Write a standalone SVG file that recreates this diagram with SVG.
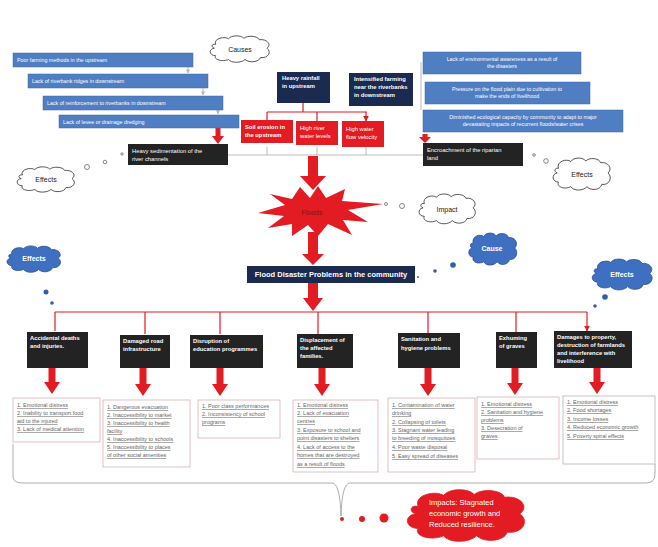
<svg xmlns="http://www.w3.org/2000/svg" xmlns:xlink="http://www.w3.org/1999/xlink" width="658" height="547" viewBox="0 0 658 547">
<style>
text{font-family:"Liberation Sans",Arial,sans-serif}
.bar{fill:#4f7ec2;stroke:#3d68a6;stroke-width:0.5}
.bt{font-size:5.3px;fill:#fff}
.navy{fill:#1b2a4f}
.red{fill:#e31b23}
.dark{fill:#232323}
.wt{font-size:5.8px;fill:#fff;font-weight:bold}
.wn{font-size:5.8px;fill:#fff}
.list{fill:#fff;stroke:#d9a3a8;stroke-width:0.7}
.lt{font-size:5.5px;fill:#666;text-decoration:underline}
.cw{fill:#fff;stroke:#444;stroke-width:0.9}
.cb{fill:#3e6fc0;stroke:#2b508f;stroke-width:0.8}
.cr{fill:#e31b23;stroke:#e31b23;stroke-width:0.8}
.ct{font-size:7px;fill:#222;text-anchor:middle}
.cbt{font-size:7px;fill:#fff;text-anchor:middle;font-weight:bold}
.gray{stroke:#a9a9a9;stroke-width:0.8;fill:none}
.rl{stroke:#e31b23;stroke-width:1.2;fill:none}
.arr{fill:#e31b23}
.dot{fill:#fff;stroke:#555;stroke-width:0.7}
.bdot{fill:#2f5fae}
.rdot{fill:#e31b23}
</style>
<defs>
<path id="cloud" vector-effect="non-scaling-stroke" d="M12 20 C8 8,25 2,32 8 C36 0,52 0,56 7 C62 0,78 2,80 10 C92 8,100 20,92 28 C100 36,94 50,82 48 C80 58,64 60,58 52 C52 60,36 60,32 52 C22 58,8 52,12 44 C2 44,0 30,10 28 C4 26,6 18,12 20 Z"/>
<marker id="ah" viewBox="0 0 10 10" refX="9" refY="5" markerWidth="5" markerHeight="5" orient="auto"><path d="M0,0 L10,5 L0,10 Z" fill="#e31b23"/></marker>
<marker id="gh" viewBox="0 0 10 10" refX="9" refY="5" markerWidth="5" markerHeight="5" orient="auto"><path d="M0,0 L10,5 L0,10 Z" fill="#b5b5b5"/></marker>
</defs>
<rect width="658" height="547" fill="#fff"/>

<g id="connectors">
<path class="gray" d="M188,67 V73" stroke="#b5b5b5" stroke-width="2.5" marker-end="url(#gh)"/>
<path class="gray" d="M203,88 V95" stroke="#b5b5b5" stroke-width="2.5" marker-end="url(#gh)"/>
<path class="gray" d="M218,110 V114" stroke="#b5b5b5" stroke-width="2.5" marker-end="url(#gh)"/>
<path class="gray" d="M421,62 V110" stroke="#c8c8c8" stroke-width="2.5"/>
<path class="gray" d="M228,155 H423"/>
<path class="gray" d="M267,147 V155 M317,147 V155 M366,147 V155"/>
<path class="arr" d="M215.5,128 H220.5 V136 H224 L218,144 L212,136 H215.5 Z"/>
<path class="arr" d="M422.5,134 H427.5 V137 H431 L425,143 L419,137 H422.5 Z"/>
<path class="rl" d="M303,103 V112 M267,112 H367"/>
<path class="rl" d="M267,112 V120 M317,112 V121 M366,112 V121" marker-end="url(#ah)"/>
<path class="arr" d="M308,156 H318 V176 H326 L313,190 L300,176 H308 Z"/>
<path class="arr" d="M308,232 H318 V254 H324 L313,265 L302,254 H308 Z"/>
<path class="arr" d="M308,283 H318 V298 H323 L313,311 L303,298 H308 Z"/>
<path class="rl" d="M55,312 H587"/>
<path class="rl" d="M55,312 V331 M145,312 V334 M220,312 V334 M318,312 V334 M428,312 V333 M516,312 V332 M587,312 V331" marker-end="url(#ah)"/>
<path class="arr" d="M48.5,368 H55.5 V382 H60 L52,394 L44,382 H48.5 Z"/>
<path class="arr" d="M139.5,368 H146.5 V384 H151 L143,396 L135,384 H139.5 Z"/>
<path class="arr" d="M216.5,368 H223.5 V384 H228 L220,396 L212,384 H216.5 Z"/>
<path class="arr" d="M318.5,368 H325.5 V384 H330 L322,396 L314,384 H318.5 Z"/>
<path class="arr" d="M424.5,368 H431.5 V384 H436 L428,396 L420,384 H424.5 Z"/>
<path class="arr" d="M511.5,368 H518.5 V383 H523 L515,395 L507,383 H511.5 Z"/>
<path class="arr" d="M593.5,368 H600.5 V382 H605 L597,394 L589,382 H593.5 Z"/>
<path d="M13,444 V476 Q13,483 22,483 H332 Q340,483 341,516 Q342,483 350,483 H646 Q655,483 655,474 V464" fill="none" stroke="#999" stroke-width="0.8"/>
</g>

<g id="causes-bars-left">
<rect class="bar" x="13" y="53" width="180" height="14"/>
<text class="bt" x="17" y="62">Poor farming methods in the upstream</text>
<rect class="bar" x="28" y="74" width="180" height="14"/>
<text class="bt" x="32" y="83">Lack of riverbank ridges in downstream</text>
<rect class="bar" x="43" y="96" width="180" height="14"/>
<text class="bt" x="47" y="105">Lack of reinforcement to riverbanks in downstream</text>
<rect class="bar" x="59" y="115" width="180" height="13"/>
<text class="bt" x="63" y="123.5">Lack of levee or drainage dredging</text>
</g>

<g id="causes-bars-right">
<rect class="bar" x="423" y="52" width="158" height="22"/>
<text class="bt" x="502" y="61" text-anchor="middle">Lack of environmental awareness as a result of</text>
<text class="bt" x="502" y="68" text-anchor="middle">the disasters</text>
<rect class="bar" x="425" y="82" width="165" height="22"/>
<text class="bt" x="507" y="91" text-anchor="middle">Pressure on the flood plain due to cultivation to</text>
<text class="bt" x="507" y="98" text-anchor="middle">make the ends of livelihood</text>
<rect class="bar" x="423" y="110" width="200" height="22"/>
<text class="bt" x="523" y="119" text-anchor="middle">Diminished ecological capacity by community to adapt to major</text>
<text class="bt" x="523" y="126" text-anchor="middle">devastating impacts of recurrent floods/water crises</text>
</g>

<g id="causes-cloud">
<use href="#cloud" class="cw" transform="translate(208,35) scale(0.64,0.47)"/>
<text class="ct" x="240" y="52">Causes</text>
</g>

<g id="heavy-rainfall">
<rect class="navy" x="277" y="72" width="53" height="31"/>
<text class="wt" x="282" y="80">Heavy rainfall</text>
<text class="wt" x="282" y="88">in upstream</text>
</g>
<g id="intensified-farming">
<rect class="navy" x="349" y="73" width="64" height="33"/>
<text class="wt" x="354" y="81">Intensified farming</text>
<text class="wt" x="354" y="89">near the riverbanks</text>
<text class="wt" x="354" y="97">in downstream</text>
</g>
<g id="soil-erosion">
<rect class="red" x="241" y="120" width="52" height="23"/>
<text class="wt" x="245" y="129">Soil erosion in</text>
<text class="wt" x="245" y="137">the upstream</text>
</g>
<g id="high-river">
<rect class="red" x="296" y="121" width="42" height="24"/>
<text class="wn" x="300" y="130">High river</text>
<text class="wn" x="300" y="138">water levels</text>
</g>
<g id="high-velocity">
<rect class="red" x="342" y="121" width="42" height="26"/>
<text class="wn" x="346" y="131">High water</text>
<text class="wn" x="346" y="139">flow velocity</text>
</g>

<g id="sedimentation">
<rect class="dark" x="128" y="144" width="100" height="21"/>
<text class="wn" x="132" y="153">Heavy sedimentation of the</text>
<text class="wn" x="132" y="161">river channels</text>
</g>
<g id="encroachment">
<rect class="dark" x="423" y="143" width="100" height="23"/>
<text class="wn" x="427" y="152">Encroachment of the riparian</text>
<text class="wn" x="427" y="160">land</text>
</g>

<g id="effects-left">
<circle class="dot" cx="87" cy="167" r="2.5"/>
<circle class="dot" cx="105" cy="162" r="1.8"/>
<circle class="dot" cx="122" cy="154" r="1.2"/>
<use href="#cloud" class="cw" transform="translate(15,166) scale(0.62,0.45)"/>
<text class="ct" x="46" y="182">Effects</text>
</g>
<g id="effects-right">
<circle class="dot" cx="534" cy="155" r="1.3"/>
<circle class="dot" cx="546" cy="161" r="2.3"/>
<use href="#cloud" class="cw" transform="translate(551,157) scale(0.62,0.57)"/>
<text class="ct" x="582" y="177">Effects</text>
</g>

<g id="floods">
<polygon class="red" points="258,213 285,205 270,194 292,199 300,187 310,198 318,186 326,198 345,189 342,201 383,204 348,210 368,222 343,220 352,235 328,224 318,236 308,225 292,236 292,224 268,228 284,216"/>
<text x="312" y="215" font-size="7" fill="#8b1010" text-anchor="middle">Floods</text>
</g>
<g id="impact-cloud">
<circle class="dot" cx="386" cy="204" r="1.5"/>
<circle class="dot" cx="402" cy="206" r="2.5"/>
<use href="#cloud" class="cw" transform="translate(417,193) scale(0.61,0.53)"/>
<text class="ct" x="447" y="212">Impact</text>
</g>

<g id="flood-problems">
<rect class="navy" x="247" y="266" width="168" height="17"/>
<text x="331" y="277" font-size="7.5" fill="#fff" font-weight="bold" text-anchor="middle">Flood Disaster Problems in the community</text>
</g>
<g id="cause-cloud">
<circle class="bdot" cx="418" cy="277" r="1"/>
<circle class="bdot" cx="435" cy="271" r="1.8"/>
<circle class="bdot" cx="453" cy="265" r="2.8"/>
<use href="#cloud" class="cb" transform="translate(467,232) scale(0.52,0.57)"/>
<text class="cbt" x="492" y="251">Cause</text>
</g>
<g id="effects-blue-left">
<use href="#cloud" class="cb" transform="translate(5,245) scale(0.58,0.47)"/>
<text class="cbt" x="34" y="261">Effects</text>
<circle class="bdot" cx="46" cy="292" r="2.5"/>
<circle class="bdot" cx="52" cy="303" r="1.8"/>
</g>
<g id="effects-blue-right">
<use href="#cloud" class="cb" transform="translate(590,258) scale(0.65,0.55)"/>
<text class="cbt" x="622" y="277">Effects</text>
<circle class="bdot" cx="605" cy="297" r="2.8"/>
<circle class="bdot" cx="595" cy="306" r="1.8"/>
</g>

<g id="deaths">
<rect class="dark" x="27" y="332" width="61" height="36"/>
<text class="wt" x="30" y="340">Accidental deaths</text>
<text class="wt" x="30" y="348">and injuries.</text>
</g>
<g id="roads">
<rect class="dark" x="120" y="335" width="50" height="33"/>
<text class="wt" x="123" y="343">Damaged road</text>
<text class="wt" x="123" y="351">infrastructure</text>
</g>
<g id="education">
<rect class="dark" x="190" y="335" width="73" height="33"/>
<text class="wt" x="193" y="343">Disruption of</text>
<text class="wt" x="193" y="351">education programmes</text>
</g>
<g id="displacement">
<rect class="dark" x="297" y="334" width="56" height="34"/>
<text class="wt" x="300" y="342">Displacement of</text>
<text class="wt" x="300" y="350">the affected</text>
<text class="wt" x="300" y="358">families.</text>
</g>
<g id="sanitation">
<rect class="dark" x="398" y="333" width="62" height="35"/>
<text class="wt" x="401" y="341">Sanitation and</text>
<text class="wt" x="401" y="350">hygiene problems</text>
</g>
<g id="graves">
<rect class="dark" x="496" y="332" width="41" height="36"/>
<text class="wt" x="499" y="340">Exhuming</text>
<text class="wt" x="499" y="348">of graves</text>
</g>
<g id="property">
<rect class="dark" x="554" y="331" width="78" height="37"/>
<text class="wt" x="557" y="339">Damages to property,</text>
<text class="wt" x="557" y="347">destruction of farmlands</text>
<text class="wt" x="557" y="355">and interference with</text>
<text class="wt" x="557" y="363">livelihood</text>
</g>

<g id="list-deaths">
<rect class="list" x="13" y="398" width="87" height="44"/>
<text class="lt" x="17" y="407">1. Emotional distress</text>
<text class="lt" x="17" y="415">2. Inability to transport food</text>
<text class="lt" x="17" y="423">aid to the injured</text>
<text class="lt" x="17" y="431">3. Lack of medical attention</text>
</g>
<g id="list-roads">
<rect class="list" x="103" y="400" width="87" height="67"/>
<text class="lt" x="107" y="409">1. Dangerous evacuation</text>
<text class="lt" x="107" y="417">2. Inaccessibility to market</text>
<text class="lt" x="107" y="425">3. Inaccessibility to health</text>
<text class="lt" x="107" y="433">facility</text>
<text class="lt" x="107" y="441">4. Inaccessibility to schools</text>
<text class="lt" x="107" y="449">5. Inaccessibility to places</text>
<text class="lt" x="107" y="457">of other social amenities</text>
</g>
<g id="list-education">
<rect class="list" x="198" y="400" width="82" height="38"/>
<text class="lt" x="202" y="408">1. Poor class performances</text>
<text class="lt" x="202" y="416">2. Inconsistency of school</text>
<text class="lt" x="202" y="424">programs</text>
</g>
<g id="list-displacement">
<rect class="list" x="293" y="400" width="85" height="72"/>
<text class="lt" x="297" y="407">1. Emotional distress</text>
<text class="lt" x="297" y="415">2. Lack of evacuation</text>
<text class="lt" x="297" y="423">centres</text>
<text class="lt" x="297" y="432">3. Exposure to school and</text>
<text class="lt" x="297" y="440">point disasters to shelters</text>
<text class="lt" x="297" y="449">4. Lack of access to the</text>
<text class="lt" x="297" y="457">homes that are destroyed</text>
<text class="lt" x="297" y="466">as a result of floods</text>
</g>
<g id="list-sanitation">
<rect class="list" x="388" y="398" width="87" height="74"/>
<text class="lt" x="392" y="407">1. Contamination of water</text>
<text class="lt" x="392" y="415">drinking</text>
<text class="lt" x="392" y="424">2. Collapsing of toilets</text>
<text class="lt" x="392" y="432">3. Stagnant water leading</text>
<text class="lt" x="392" y="440">to breeding of mosquitoes</text>
<text class="lt" x="392" y="449">4. Poor waste disposal</text>
<text class="lt" x="392" y="458">5. Easy spread of diseases</text>
</g>
<g id="list-graves">
<rect class="list" x="477" y="397" width="82" height="62"/>
<text class="lt" x="481" y="406">1. Emotional distress</text>
<text class="lt" x="481" y="414">2. Sanitation and hygiene</text>
<text class="lt" x="481" y="422">problems</text>
<text class="lt" x="481" y="430">3. Desecration of</text>
<text class="lt" x="481" y="438">graves</text>
</g>
<g id="list-property">
<rect class="list" x="563" y="396" width="92" height="68" style="stroke:#aaa"/>
<text class="lt" x="567" y="404">1. Emotional distress</text>
<text class="lt" x="567" y="412">2. Food shortages</text>
<text class="lt" x="567" y="421">3. Income losses</text>
<text class="lt" x="567" y="429">4. Reduced economic growth</text>
<text class="lt" x="567" y="438">5. Poverty spiral effects</text>
</g>

<g id="impacts">
<circle class="rdot" cx="342" cy="519" r="2"/>
<circle class="rdot" cx="362" cy="519" r="3"/>
<circle class="rdot" cx="384" cy="518" r="4.5"/>
<use href="#cloud" class="cr" transform="translate(403,488) scale(1.27,0.92)"/>
<text x="429" y="505" font-size="7.5" fill="#fff">Impacts: Stagnated</text>
<text x="429" y="516" font-size="7.5" fill="#fff">economic growth and</text>
<text x="429" y="527" font-size="7.5" fill="#fff">Reduced resilience.</text>
</g>
</svg>
